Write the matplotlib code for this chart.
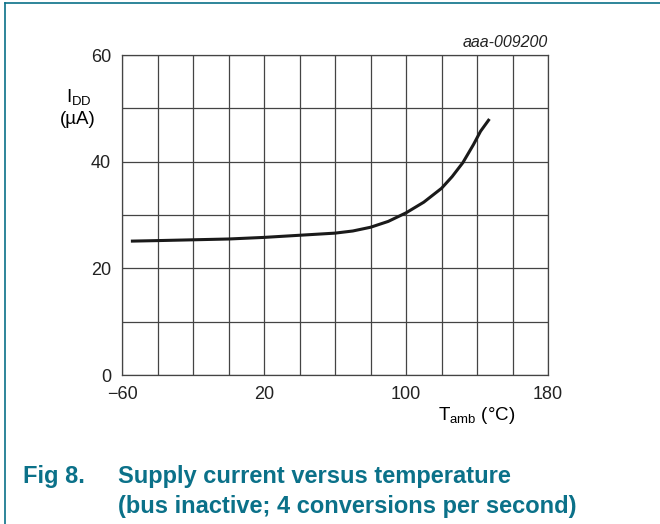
import matplotlib
matplotlib.use("Agg")
import matplotlib.pyplot as plt
from matplotlib.lines import Line2D
import numpy as np

temp = [-55, -40, -20, 0, 20, 40, 60, 70, 80, 90, 100, 110, 120, 126, 132, 138, 142, 147]
idd = [25.1, 25.2, 25.35, 25.5, 25.8, 26.2, 26.6, 27.0, 27.7, 28.8, 30.4, 32.4, 35.0, 37.2, 39.8, 43.2, 45.7, 48.0]

xticks = [-60, 20, 100, 180]
yticks = [0, 20, 40, 60]

teal = "#0b7189"
font = ["Liberation Sans", "DejaVu Sans"]
plt.rcParams["font.family"] = font

W, H = 660, 524
fig = plt.figure(figsize=(6.6, 5.24), dpi=100)
ax = fig.add_axes([122/W, 1-375/H, 426/W, 320/H])

ax.set_xlim(-60, 180)
ax.set_ylim(0, 60)
ax.set_xticks(np.arange(-60, 181, 20), minor=True)
ax.set_yticks(np.arange(0, 61, 10), minor=True)
ax.set_xticks(xticks)
ax.set_yticks(yticks)
ax.grid(True, which="both", color="#444444", linewidth=0.9)
ax.tick_params(which="both", length=0, labelsize=13, colors="#222222")
ax.tick_params(axis="x", pad=8)
ax.tick_params(axis="y", pad=8)
for s in ax.spines.values():
    s.set_color("#444444")
    s.set_linewidth(0.9)

ax.plot(temp, idd, color="#1a1a1a", linewidth=2.2, solid_capstyle="butt")

fig.text(79/W, 1-98/H, r"I$_{\mathregular{DD}}$", ha="center", va="center", fontsize=13.5)
fig.text(77.5/W, 1-120/H, "(µA)", ha="center", va="center", fontsize=13.5)
fig.text(477/W, 1-415/H, r"T$_{\mathregular{amb}}$ (°C)", ha="center", va="center", fontsize=13.5)
fig.text(548/W, 1-43/H, "aaa-009200", ha="right", va="center", fontsize=11.5, style="italic", color="#222222")

fig.text(23/W, 1-482.5/H, "Fig 8.", ha="left", va="baseline", fontsize=17, fontweight="bold", color=teal)
fig.text(118/W, 1-482.5/H, "Supply current versus temperature", ha="left", va="baseline", fontsize=17, fontweight="bold", color=teal)
fig.text(118/W, 1-512.5/H, "(bus inactive; 4 conversions per second)", ha="left", va="baseline", fontsize=17, fontweight="bold", color=teal)

fig.add_artist(Line2D([4.5/W, 1], [1-2.5/H, 1-2.5/H], transform=fig.transFigure, color=teal, linewidth=1.2))
fig.add_artist(Line2D([4.5/W, 4.5/W], [0, 1-2.5/H], transform=fig.transFigure, color=teal, linewidth=1.2))

fig.savefig("out.png", dpi=100)
